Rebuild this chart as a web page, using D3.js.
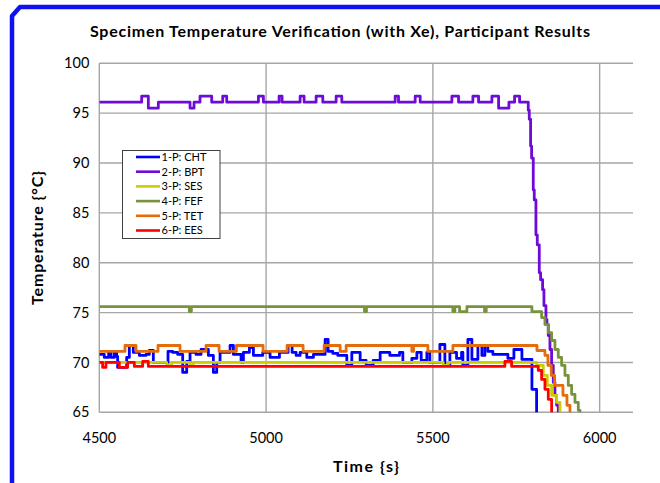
<!DOCTYPE html>
<html>
<head>
<meta charset="utf-8">
<script src="https://cdn.jsdelivr.net/npm/d3@7"></script>
<style>
  body { margin: 0; background: #fff; }
  svg text { font-family: Lato, "Open Sans", sans-serif; }
</style>
</head>
<body>
<div id="chart"></div>
<script>
// series names + colours
var seriesNames = ["1-P: CHT", "2-P: BPT", "3-P: SES", "4-P: FEF", "5-P: TET", "6-P: EES"];
var seriesColors = ["#0000FF", "#6E0BD9", "#CCCC00", "#77933C", "#E46C0A", "#FF0000"];

// [time s, temperature C], drawn as steps
var cht = [[4500,70.8],[4515,70.5],[4528,71.0],[4535,70.5],[4545,71.0],[4552,70.6],[4555,69.5],[4582,70.5],
  [4590,71.7],[4602,71.0],[4620,70.7],[4640,70.8],[4650,71.2],[4662,70.0],[4706,71.1],[4720,71.0],[4735,70.8],
  [4750,69.0],[4762,70.1],[4772,71.0],[4790,70.8],[4805,71.3],[4827,70.7],[4842,69.0],[4852,70.0],[4862,71.0],
  [4892,71.7],[4902,70.8],[4925,70.0],[4932,71.0],[4950,71.5],[4962,70.7],[4990,71.0],[5012,70.5],[5040,71.0],
  [5066,71.7],[5078,71.0],[5090,70.7],[5102,71.0],[5122,70.5],[5142,70.8],[5177,72.3],[5186,71.1],[5200,70.9],
  [5215,70.7],[5242,69.7],[5257,71.0],[5282,70.2],[5300,69.7],[5321,70.2],[5342,71.0],[5371,70.7],[5400,71.0],
  [5410,70.0],[5437,70.4],[5452,71.0],[5465,70.2],[5482,71.0],[5491,70.0],[5521,71.8],[5536,69.7],[5551,71.0],
  [5571,70.4],[5586,71.0],[5590,69.7],[5605,72.3],[5617,70.3],[5635,71.7],[5647,70.7],[5656,71.7],[5665,71.1],
  [5680,70.8],[5725,70.4],[5743,71.3],[5767,70.3],[5797,67.3],[5811,64.0],[5830,64.0]];

var bpt = [[4500,96.1],[4627,96.7],[4647,95.5],[4677,96.1],[4772,95.5],[4784,96.1],[4802,96.7],[4837,96.1],
  [4870,96.7],[4882,96.1],[4977,96.7],[4992,96.1],[5039,96.7],[5048,96.1],[5102,96.7],[5114,96.1],[5150,96.7],
  [5170,96.1],[5210,96.7],[5227,96.1],[5387,96.7],[5397,96.1],[5447,96.7],[5462,96.1],[5557,96.7],[5577,96.1],
  [5620,96.7],[5637,96.1],[5677,96.7],[5697,95.5],[5728,96.1],[5745,96.7],[5760,96.1],[5786,95.3],[5789,94.4],
  [5793,91.7],[5796,90.5],[5801,87.3],[5804,86.3],[5809,82.8],[5813,81.8],[5819,79.0],[5823,78.3],[5829,77.3],
  [5833,75.7],[5839,74.3],[5842,73.8],[5846,72.7],[5851,71.3],[5856,69.7],[5861,68.0],[5866,66.7],[5871,65.7],
  [5876,64.0],[5900,64.0]];

var ses = [[4500,70.0],[4702,69.7],[4717,70.0],[4772,69.7],[4782,70.0],[5531,69.7],[5546,70.0],[5811,69.7],
  [5831,68.7],[5843,67.7],[5856,66.7],[5871,66.0],[5881,64.0],[5900,64.0]];

var fef = [[4500,75.6],[4770,75.1],[4776,75.6],[5295,75.1],[5301,75.6],[5560,75.1],[5566,75.6],[5580,75.1],
  [5602,75.6],[5655,75.1],[5660,75.6],[5797,75.1],[5826,74.5],[5836,73.8],[5846,73.0],[5856,72.2],[5866,71.3],
  [5876,70.5],[5886,69.7],[5896,68.7],[5906,67.7],[5916,66.8],[5926,66.0],[5936,65.2],[5941,64.0],[5960,64.0]];

var tet = [[4500,71.1],[4577,71.7],[4610,71.1],[4676,71.7],[4742,71.1],[4820,71.7],[4859,71.1],[4911,71.7],
  [4991,71.1],[5063,71.7],[5111,71.1],[5174,71.7],[5222,71.1],[5240,71.7],[5437,71.1],[5442,71.7],[5485,71.1],
  [5560,71.7],[5812,71.2],[5836,70.7],[5845,69.7],[5855,68.7],[5865,67.7],[5890,66.7],[5902,65.7],[5911,64.0],
  [5930,64.0]];

var ees = [[4500,70.0],[4510,69.5],[4520,70.0],[4560,69.5],[4585,70.0],[4605,69.6],[4630,70.1],[4647,69.6],
  [5716,70.1],[5736,69.6],[5816,69.2],[5826,68.3],[5836,67.3],[5846,66.3],[5856,64.0],[5880,64.0]];

var xTicks = [4500, 5000, 5500, 6000];
var yTicks = [65, 70, 75, 80, 85, 90, 95, 100];

var allSeries = [cht, bpt, ses, fef, tet, ees];

var W = 660, H = 483;
var margin = { top: 63.3, right: 27, bottom: 70.7, left: 99.3 };
var width = W - margin.left - margin.right;
var height = H - margin.top - margin.bottom;

var svg = d3.select("#chart").append("svg")
  .attr("width", W)
  .attr("height", H);

// blue frame round the chart
svg.append("path")
  .attr("d", "M12,490 L12,16 L20,7 L670,7")
  .attr("fill", "none")
  .attr("stroke", "#1010F0")
  .attr("stroke-width", 4.5)
  .attr("stroke-linejoin", "round");

var g = svg.append("g")
  .attr("transform", "translate(" + margin.left + "," + margin.top + ")");

var x = d3.scaleLinear().domain([4500, 6100]).range([0, width]);
var y = d3.scaleLinear().domain([65, 100]).range([height, 0]);

// grid
g.selectAll(".hgrid").data(yTicks).enter().append("line")
  .attr("x1", 0).attr("x2", width)
  .attr("y1", function(d) { return y(d); }).attr("y2", function(d) { return y(d); })
  .attr("stroke", "#A6A6A6").attr("stroke-width", 1.4);

g.selectAll(".vgrid").data(xTicks).enter().append("line")
  .attr("x1", function(d) { return x(d); }).attr("x2", function(d) { return x(d); })
  .attr("y1", 0).attr("y2", height)
  .attr("stroke", "#A6A6A6").attr("stroke-width", 1.4);

// tick labels
g.selectAll(".ylab").data(yTicks).enter().append("text")
  .attr("x", -10).attr("y", function(d) { return y(d); })
  .attr("dy", "0.35em").attr("text-anchor", "end")
  .attr("font-size", 14.5).text(function(d) { return d; });

g.selectAll(".xlab").data(xTicks).enter().append("text")
  .attr("x", function(d) { return x(d); }).attr("y", height + 31)
  .attr("text-anchor", "middle")
  .attr("font-size", 14.5).text(function(d) { return d; });

// clip lines to plot area
svg.append("clipPath").attr("id", "plotclip")
  .append("rect").attr("x", 0).attr("y", -5).attr("width", width).attr("height", height + 5);

var line = d3.line()
  .x(function(d) { return x(d[0]); })
  .y(function(d) { return y(d[1]); })
  .curve(d3.curveStepAfter);

g.append("g").attr("clip-path", "url(#plotclip)")
  .selectAll("path").data(allSeries).enter().append("path")
  .attr("d", line)
  .attr("fill", "none")
  .attr("stroke", function(d, i) { return seriesColors[i]; })
  .attr("stroke-width", 2.8)
  .attr("stroke-linejoin", "round");

// titles
svg.append("text")
  .attr("x", 340).attr("y", 37)
  .attr("text-anchor", "middle")
  .attr("font-size", 16).attr("font-weight", "bold")
  .attr("textLength", 500).attr("lengthAdjust", "spacing")
  .text("Specimen Temperature  Verification  (with Xe), Participant  Results");

svg.append("text")
  .attr("x", 366).attr("y", 472)
  .attr("text-anchor", "middle")
  .attr("font-size", 16).attr("font-weight", "bold")
  .attr("textLength", 66).attr("lengthAdjust", "spacing")
  .text("Time {s}");

svg.append("text")
  .attr("transform", "translate(43,238) rotate(-90)")
  .attr("text-anchor", "middle")
  .attr("font-size", 16).attr("font-weight", "bold")
  .attr("textLength", 134).attr("lengthAdjust", "spacing")
  .text("Temperature {°C}");

// legend
var legend = svg.append("g").attr("transform", "translate(122.5,150.5)");
legend.append("rect")
  .attr("width", 97.5).attr("height", 88)
  .attr("fill", "#fff").attr("stroke", "#404040").attr("stroke-width", 1);

var items = legend.selectAll(".item").data(seriesNames).enter().append("g")
  .attr("transform", function(d, i) { return "translate(0," + (6.5 + i * 14.7) + ")"; });
items.append("line")
  .attr("x1", 13.5).attr("x2", 37.5)
  .attr("stroke", function(d, i) { return seriesColors[i]; })
  .attr("stroke-width", 2.6);
items.append("text")
  .attr("x", 39).attr("dy", "0.36em")
  .attr("font-size", 11)
  .text(function(d) { return d; });
</script>
</body>
</html>
